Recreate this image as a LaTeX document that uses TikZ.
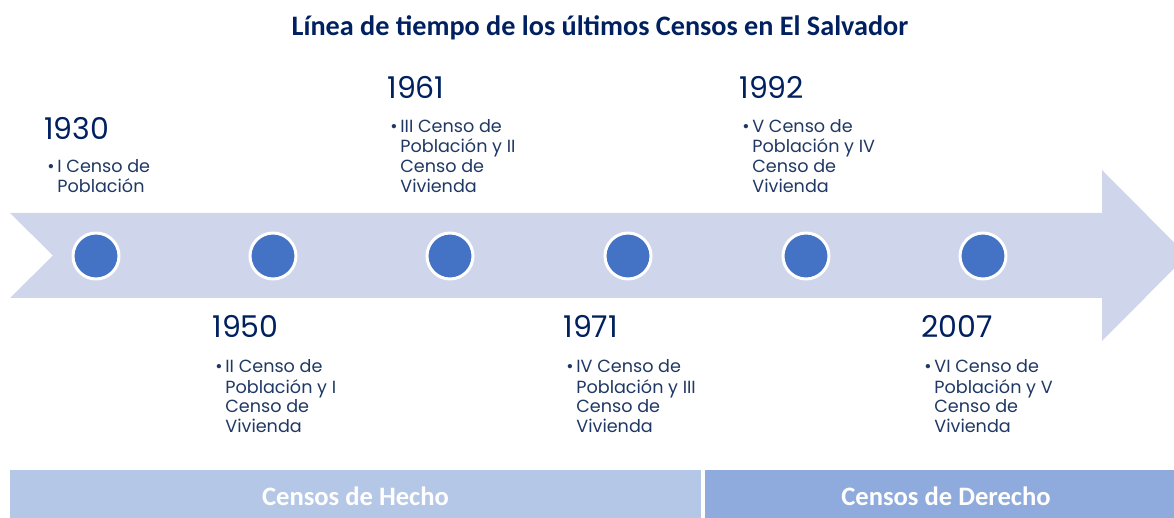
\documentclass[tikz,border=0pt]{standalone}
\usepackage{fontspec}
\setmainfont{Poppins}
\newfontfamily\titlefont{Carlito}
\usetikzlibrary{positioning}
\definecolor{navy}{HTML}{002060}
\definecolor{textblue}{HTML}{1F3864}
\definecolor{arrowfill}{HTML}{CFD5EA}
\definecolor{dotblue}{HTML}{4472C4}
\definecolor{hecho}{HTML}{B4C7E7}
\definecolor{derecho}{HTML}{8FAADC}
\newcommand{\bul}{\makebox[5pt][l]{\textbullet}}
\newcommand{\ind}{\hspace*{5pt}}

\begin{document}
\begin{tikzpicture}[x=0.5pt,y=-0.5pt,dot/.style={circle,fill=dotblue,draw=white,line width=1.5pt,minimum size=23pt,inner sep=0pt},year/.style={anchor=base west,inner sep=0pt,text=navy,font=\fontsize{15}{17}\selectfont},desc/.style={anchor=base west,align=left,inner sep=0pt,text=textblue,font=\fontsize{8.8}{10}\selectfont},band/.style={inner sep=0pt,minimum height=24pt,text height=12pt,text depth=1pt,text=white,font=\titlefont\bfseries\fontsize{13.3}{15}\selectfont}]
	\useasboundingbox (0,0) rectangle (1174,518);
	\node[anchor=base,text=navy,font=\titlefont\bfseries\fontsize{14.1}{16}\selectfont] (title) at (600,36) {Línea de tiempo de los últimos Censos en El Salvador};
	
	% arrow
	\fill[arrowfill] (10,213) -- (1102,213) -- (1102,170) -- (1187,255.5) -- (1102,341) -- (1102,298) -- (10,298) -- (53,255.5) -- cycle;
	
	\node[dot] (c1) at (96,256) {};
	\node[dot] (c2) at (273,256) {};
	\node[dot] (c3) at (450,256) {};
	\node[dot] (c4) at (628,256) {};
	\node[dot] (c5) at (806,256) {};
	\node[dot] (c6) at (983,256) {};
	
	\node[year] (y1) at (44,140) {1930};
	\node[year] (y2) at (212,338) {1950};
	\node[year] (y3) at (387,99) {1961};
	\node[year] (y4) at (563,338) {1971};
	\node[year] (y5) at (739,99) {1992};
	\node[year] (y6) at (921,338) {2007};
	
	% base of a multi-line node sits on its last line
	\node[desc] (d1) at ([shift={(3,53)}]y1.base west) {\bul I Censo de\\\ind Población};
	\node[desc] (d2) at ([shift={(3,95)}]y2.base west) {\bul II Censo de\\\ind Población y I\\\ind Censo de\\\ind Vivienda};
	\node[desc] (d3) at ([shift={(3,94)}]y3.base west) {\bul III Censo de\\\ind Población y II\\\ind Censo de\\\ind Vivienda};
	\node[desc] (d4) at ([shift={(3,95)}]y4.base west) {\bul IV Censo de\\\ind Población y III\\\ind Censo de\\\ind Vivienda};
	\node[desc] (d5) at ([shift={(3,94)}]y5.base west) {\bul V Censo de\\\ind Población y IV\\\ind Censo de\\\ind Vivienda};
	\node[desc] (d6) at ([shift={(3,95)}]y6.base west) {\bul VI Censo de\\\ind Población y V\\\ind Censo de\\\ind Vivienda};
	
	% bottom bars
	\node[band,fill=hecho,minimum width=345.5pt] (hecho) at (355.5,494) {Censos de Hecho};
	\node[band,fill=derecho,minimum width=241pt] (derecho) at (946,494) {Censos de Derecho};
\end{tikzpicture}
\end{document}
